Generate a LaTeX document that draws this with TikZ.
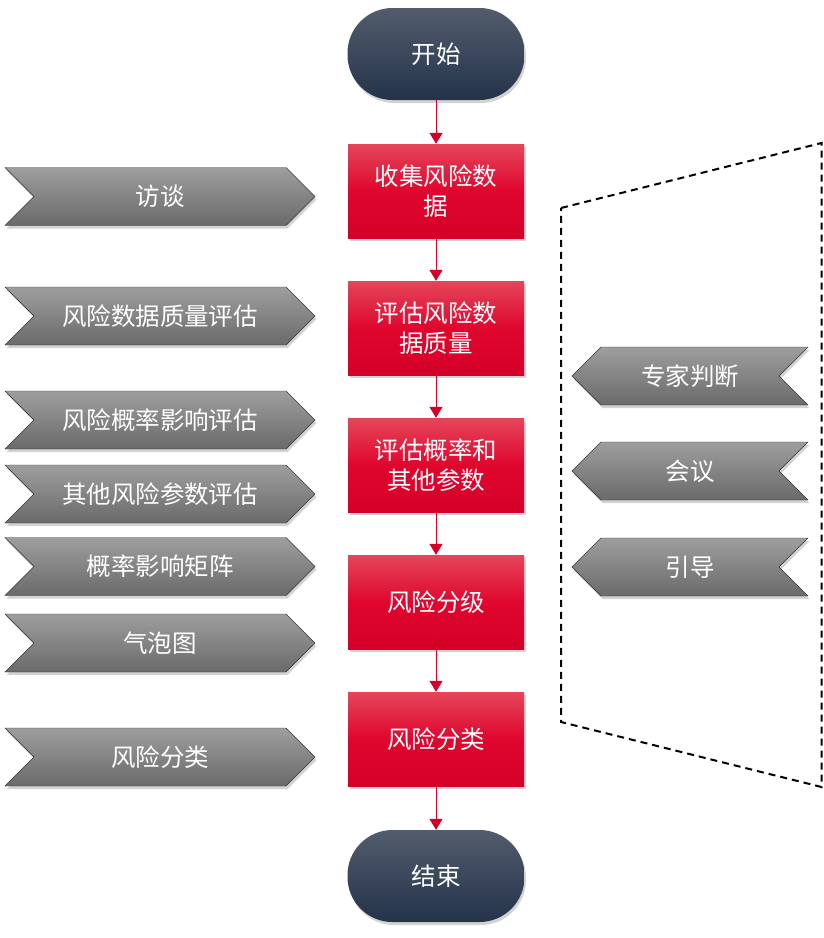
\documentclass[tikz,border=0pt]{standalone}
\usepackage{fontspec}
\setmainfont{Noto Sans CJK SC}
\usepackage{tikz}
\usetikzlibrary{arrows.meta,shapes.symbols,shadows}
\definecolor{lred}{RGB}{228, 70, 90}
\definecolor{mred}{RGB}{224, 6, 46}
\definecolor{dred}{RGB}{212, 0, 40}
\definecolor{lnavy}{RGB}{82, 92, 108}
\definecolor{dnavy}{RGB}{36, 51, 74}
\definecolor{lgray}{RGB}{158, 158, 158}
\definecolor{dgray}{RGB}{106, 106, 106}
\def\bigTxt{\fontsize{24.5}{30}\selectfont}
\tikzset{>={Triangle[width=13pt, length=11pt]}}
\tikzset{
  shd/.style = {drop shadow = {shadow xshift=1.5pt, shadow yshift=-3pt, opacity=0.35}},
  term/.style = {rectangle, rounded corners=45pt, minimum width=177pt, minimum height=92pt,
    top color=lnavy, bottom color=dnavy, shd, text=white, font=\bigTxt},
  stepbox/.style = {rectangle, minimum width=176pt, minimum height=94pt,
    top color=lred, bottom color=dred, middle color=mred, shd, text=white,
    align=center, font=\bigTxt},
  tool/.style = {signal, signal from=west, signal to=east, signal pointer angle=90,
    minimum width=310pt, minimum height=58pt, inner sep=0pt, draw=black!80,
    top color=lgray, bottom color=dgray, shd, text=white, font=\bigTxt},
  toolr/.style = {tool, signal from=east, signal to=west, minimum width=236pt},
  flow/.style = {->, draw=dred, line width=1pt}
}

\begin{document}
\begin{tikzpicture}[x=1pt, y=-1pt]
  \useasboundingbox (0, 0) rectangle (823, 938);
  % main flow
  \node[term] (st) at (436, 54){开始};
  \node[stepbox] (b1) at (436, 191){收集风险数\\据};
  \node[stepbox] (b2) at (436, 328){评估风险数\\据质量};
  \node[stepbox] (b3) at (436, 465){评估概率和\\其他参数};
  \node[stepbox] (b4) at (436, 602){风险分级};
  \node[stepbox] (b5) at (436, 739){风险分类};
  \node[term] (en) at (436, 876){结束};
  \draw[flow] (st) -- (b1);
  \draw[flow] (b1) -- (b2);
  \draw[flow] (b2) -- (b3);
  \draw[flow] (b3) -- (b4);
  \draw[flow] (b4) -- (b5);
  \draw[flow] (b5) -- (en);
  % tools on the left
  \node[tool] (l1) at (160, 196.5){访谈};
  \node[tool] (l2) at (160, 316){风险数据质量评估};
  \node[tool] (l3) at (160, 420){风险概率影响评估};
  \node[tool] (l4) at (160, 494){其他风险参数评估};
  \node[tool] (l5) at (160, 566.5){概率影响矩阵};
  \node[tool] (l6) at (160, 643){气泡图};
  \node[tool] (l7) at (160, 757){风险分类};
  % techniques on the right
  \draw[line width=2pt, dash pattern=on 7pt off 5pt]
    (561, 208) -- (821.5, 143) -- (821.5, 787) -- (561, 722) -- cycle;
  \node[toolr] (r1) at (690, 376){专家判断};
  \node[toolr] (r2) at (690, 471){会议};
  \node[toolr] (r3) at (690, 567){引导};
\end{tikzpicture}
\end{document}
